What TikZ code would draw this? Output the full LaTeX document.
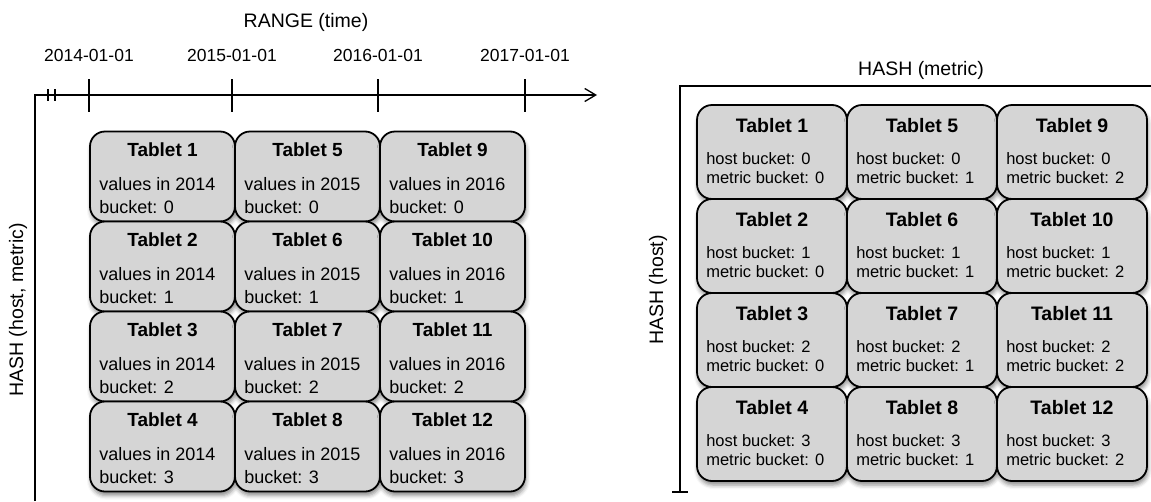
\documentclass[tikz,border=0pt]{standalone}
\usepackage{fontspec}
\setmainfont{Liberation Sans}
\usetikzlibrary{calc, positioning, arrows.meta, shadows.blur}
\definecolor{tabletgray}{HTML}{D5D5D5}

\tikzset{
  tablet/.style={draw, line width=1.8pt, rounded corners=15pt, fill=tabletgray,
    inner sep=0pt, blur shadow={shadow xshift=1pt, shadow yshift=-4pt, shadow blur radius=4pt, shadow opacity=45}},
  ttitle/.style={font=\bfseries\fontsize{19.5}{22}\selectfont, inner sep=0pt},
  tbody/.style={font=\fontsize{16.5}{19}\selectfont, align=left, inner sep=0pt, anchor=west},
  axislabel/.style={font=\fontsize{19.5}{22}\selectfont, inner sep=0pt},
  datelabel/.style={font=\fontsize{17.5}{20}\selectfont, inner sep=0pt},
  axis/.style={line width=1.3pt},
}

\begin{document}
\begin{tikzpicture}[x=1pt, y=-1pt]
  \useasboundingbox (0,0) rectangle (1151,501);

  % left: range + hash partitioning
  \node[axislabel] (range) at (306,22) {RANGE (time)};
  \node[axislabel, rotate=90] (hashhm) at (18,310) {HASH (host, metric)};
  \coordinate (L0) at (35,95);
  \coordinate (Ltip) at (597,95);
  \coordinate (Lbot) at (35,501);
  \draw[axis, -{Straight Barb[length=11pt, width=13pt, line width=1.3pt]}] (Lbot) -- (L0) -- (Ltip);
  \draw[axis] (48,89) -- (48,101) (55,89) -- (55,101);
  \foreach \x/\d in {89/2014-01-01, 232/2015-01-01, 378/2016-01-01, 525/2017-01-01}{
    \draw[axis] (\x,79) -- (\x,112);
    \node[datelabel] (D\x) at (\x,55) {\d};
  }

  \foreach \c/\x in {0/162.5, 1/307.5, 2/452.5}{
    \foreach \r/\y in {0/176.5, 1/266.5, 2/356.5, 3/446.5}{
      \pgfmathtruncatemacro{\n}{4*\c+\r+1}
      \pgfmathtruncatemacro{\yr}{2014+\c}
      \node[tablet, minimum width=145pt, minimum height=90pt] (LT\n) at (\x,\y) {};
      \node[ttitle, font=\bfseries\fontsize{19}{22}\selectfont] (LT\n title) at ($(LT\n.north)+(0,19)$) {Tablet \n};
      \node[tbody, font=\fontsize{18}{22.5}\selectfont] (LT\n body) at ($(LT\n.west)+(10,19)$) {values in \yr\\bucket: \r};
    }
  }

  % right: hash + hash partitioning
  \node[axislabel] (hashm) at (921,70) {HASH (metric)};
  \node[axislabel, rotate=90] (hashh) at (658,290) {HASH (host)};
  \coordinate (R0) at (680,86);
  \coordinate (Rend) at (1151,86);
  \coordinate (Rbot) at (680,492);
  \draw[axis] (Rbot) -- (R0) -- (Rend);
  \draw[axis] ($(Rbot)+(-8,0)$) -- ($(Rbot)+(8,0)$);

  \foreach \c/\x in {0/772, 1/922, 2/1072}{
    \foreach \r/\y in {0/152, 1/246, 2/340, 3/434}{
      \pgfmathtruncatemacro{\n}{4*\c+\r+1}
      \node[tablet, minimum width=150pt, minimum height=94pt] (RT\n) at (\x,\y) {};
      \node[ttitle] (RT\n title) at ($(RT\n.north)+(0,21)$) {Tablet \n};
      \node[tbody] (RT\n body) at ($(RT\n.west)+(10,16.5)$) {host bucket: \r\\metric bucket: \c};
    }
  }
\end{tikzpicture}
\end{document}
